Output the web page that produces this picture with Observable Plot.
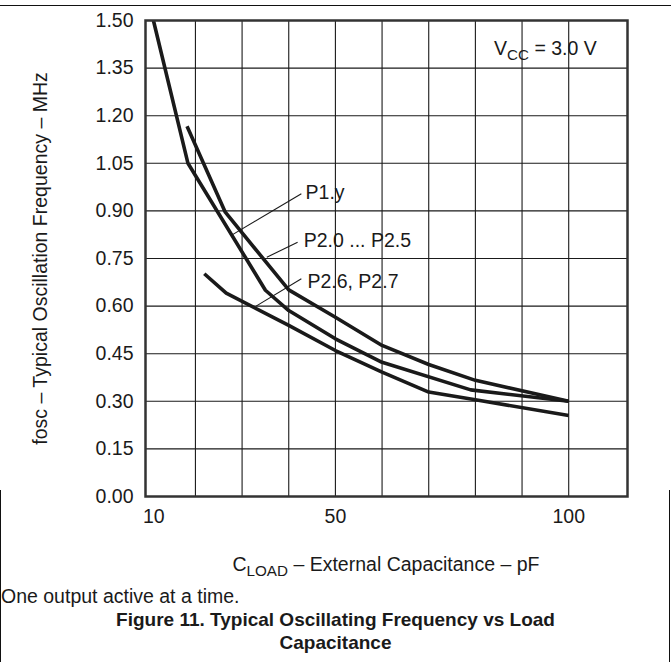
<!DOCTYPE html>
<html>
<head>
<meta charset="utf-8">
<script src="https://cdn.jsdelivr.net/npm/d3@7"></script>
<script src="https://cdn.jsdelivr.net/npm/@observablehq/plot@0.6"></script>
<style>
  html, body { margin: 0; padding: 0; background: #fff; }
  #wrap { position: relative; width: 671px; height: 662px; overflow: hidden; font-family: "Liberation Sans", Arial, Helvetica, sans-serif; color: #1a1a1a; }
  #chart { position: absolute; left: 0; top: 0; }
  .rule { position: absolute; background: #111; }
  #xlabel { position: absolute; left: 145px; width: 482px; top: 553px; text-align: center; font-size: 19.5px; line-height: 22px; white-space: nowrap; }
  #xlabel .sub { font-size: 0.78em; position: relative; top: 0.3em; }
  #note { position: absolute; left: 1px; top: 585px; font-size: 19.5px; line-height: 22px; white-space: nowrap; }
  #title { position: absolute; left: 0; width: 671px; top: 608px; text-align: center; font-size: 19px; line-height: 23px; font-weight: bold; }
</style>
</head>
<body>
<div id="wrap">
  <div id="chart"></div>
  <div id="xlabel">C<span class="sub">LOAD</span> – External Capacitance – pF</div>
  <div id="note">One output active at a time.</div>
  <div id="title">Figure 11. Typical Oscillating Frequency vs Load<br>Capacitance</div>
  <div class="rule" style="left:0;top:5px;width:671px;height:1px"></div>
  <div class="rule" style="left:0;top:490px;width:1px;height:172px"></div>
  <div class="rule" style="left:669px;top:490px;width:1px;height:172px"></div>
</div>
<script>
// ---- data ----
const capA  = [11, 18.4, 35, 40, 50, 60, 79, 100];            // P1.y
const freqA = [1.50, 1.05, 0.65, 0.586, 0.497, 0.423, 0.336, 0.30];
const capB  = [18.2, 26.4, 40, 50, 60, 70, 80, 100];          // P2.0 ... P2.5
const freqB = [1.167, 0.896, 0.651, 0.565, 0.476, 0.416, 0.366, 0.30];
const capC  = [21.9, 26.6, 40, 50, 60, 70, 80, 100];          // P2.6, P2.7
const freqC = [0.702, 0.641, 0.539, 0.46, 0.392, 0.329, 0.305, 0.255];

const seriesNames = ["P1.y", "P2.0 ... P2.5", "P2.6, P2.7"];
const labelCap   = [43.6, 43.2, 44.0];
const labelFreq  = [0.958, 0.807, 0.678];
const leadCap1   = [42.7, 41.9, 42.7];
const leadFreq1  = [0.954, 0.801, 0.686];
const leadCap2   = [27.6, 35.3, 33.0];
const leadFreq2  = [0.822, 0.754, 0.600];

const xTickFirst = [10];
const xTicks = [50, 100];
const xGrid  = [20, 30, 40, 50, 60, 70, 80, 90, 100];
const yTicks = [0, 0.15, 0.30, 0.45, 0.60, 0.75, 0.90, 1.05, 1.20, 1.35, 1.50];
const yGrid  = [0.15, 0.30, 0.45, 0.60, 0.75, 0.90, 1.05, 1.20, 1.35];

const vccText = "VCC = 3.0 V";
const vccCap = 84, vccFreq = 1.41;

const xDomain = [9.3, 112.6];
const yDomain = [0, 1.5];

// ---- build tables ----
const rows = [];
[[capA, freqA], [capB, freqB], [capC, freqC]].forEach(([cs, fs], i) => {
  cs.forEach((c, j) => rows.push({series: seriesNames[i], cap: c, freq: fs[j]}));
});
const labels = seriesNames.map((s, i) => ({s, x: labelCap[i], y: labelFreq[i],
  x1: leadCap1[i], y1: leadFreq1[i], x2: leadCap2[i], y2: leadFreq2[i]}));

const ink = "#1a1a1a";
const plot = Plot.plot({
  width: 671,
  height: 540,
  marginLeft: 145,
  marginRight: 44,
  marginTop: 20,
  marginBottom: 44,
  style: {fontFamily: "'Liberation Sans', Arial, sans-serif", fontSize: "19.5px", color: ink, background: "white", overflow: "visible"},
  x: {domain: xDomain},
  y: {domain: yDomain},
  marks: [
    Plot.gridX(xGrid, {stroke: ink, strokeOpacity: 1, strokeWidth: 1.1}),
    Plot.gridY(yGrid, {stroke: ink, strokeOpacity: 1, strokeWidth: 1.1}),
    Plot.axisX(xTickFirst, {tickSize: 0, tickPadding: 13, dx: 5, tickFormat: d => String(d), label: null, fontSize: 19.5}),
    Plot.axisX(xTicks, {tickSize: 0, tickPadding: 13, tickFormat: d => String(d), label: null, fontSize: 19.5}),
    Plot.axisY(yTicks, {tickSize: 0, tickPadding: 12, tickFormat: d => d.toFixed(2), fontSize: 19.5,
      label: "fosc – Typical Oscillation Frequency – MHz", labelAnchor: "center", labelArrow: "none", labelOffset: 112}),
    Plot.line(rows, {x: "cap", y: "freq", z: "series", stroke: ink, strokeWidth: 3.6, strokeLinejoin: "round", strokeLinecap: "butt"}),
    Plot.link(labels, {x1: "x1", y1: "y1", x2: "x2", y2: "y2", stroke: ink, strokeWidth: 1.1}),
    Plot.text(labels, {x: "x", y: "y", text: "s", textAnchor: "start", fill: ink, fontSize: 19.5}),
    Plot.text([vccText], {x: () => vccCap, y: () => vccFreq, text: d => d, textAnchor: "start", fill: ink, fontSize: 19.5}),
    Plot.frame({stroke: "#333", strokeWidth: 2.5})
  ]
});

// subscript for V_CC
d3.select(plot).selectAll("text").each(function () {
  if (this.textContent === vccText) {
    const t = d3.select(this);
    t.text(null);
    t.append("tspan").text("V");
    t.append("tspan").attr("dy", 5).attr("font-size", "0.78em").text("CC");
    t.append("tspan").attr("dy", -5).text(" = 3.0 V");
  }
});

document.getElementById("chart").appendChild(plot);
</script>
</body>
</html>
